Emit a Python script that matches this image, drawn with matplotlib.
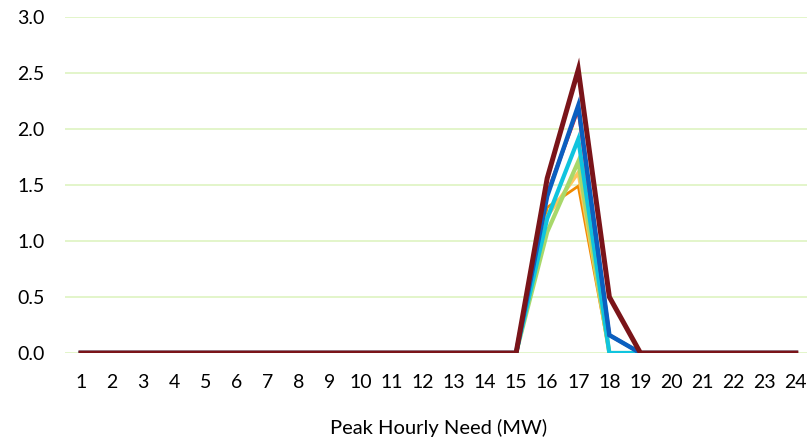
import matplotlib.pyplot as plt

hours = list(range(1, 25))

def series(v16, v17, v18):
    vals = [0.0] * 24
    vals[15] = v16
    vals[16] = v17
    vals[17] = v18
    return vals

orange = series(1.30, 1.49, 0.0)
light_orange = series(1.22, 1.61, 0.0)
green = series(1.08, 1.71, 0.0)
cyan = series(1.20, 1.91, 0.0)
red = series(1.42, 2.18, 0.16)
blue = series(1.40, 2.21, 0.16)
dark_red = series(1.56, 2.53, 0.50)

styles = [
    (orange, '#F08A00', 2.0),
    (light_orange, '#FFC65C', 2.6),
    (green, '#A8D86A', 3.0),
    (cyan, '#10C4DE', 3.0),
    (red, '#E0202A', 2.6),
    (blue, '#0A5FC0', 3.2),
    (dark_red, '#7A1419', 3.6),
]

plt.rcParams['font.family'] = ['Lato', 'DejaVu Sans']

fig = plt.figure(figsize=(8.07, 4.37), dpi=100)
ax = fig.add_axes([65.4 / 807, 84 / 437, 746 / 807, 336 / 437])

for vals, color, lw in styles:
    ax.plot(hours, vals, color=color, linewidth=lw, solid_joinstyle='miter')

ax.set_xlim(0.5, 24.5)
ax.set_ylim(0, 3.0)
ax.set_yticks([0, 0.5, 1.0, 1.5, 2.0, 2.5, 3.0])
ax.set_yticklabels(['0.0', '0.5', '1.0', '1.5', '2.0', '2.5', '3.0'])
ax.set_xticks(hours)
ax.grid(axis='y', color='#E0F5C6', linewidth=1.3)
ax.set_axisbelow(True)
for s in ax.spines.values():
    s.set_visible(False)
ax.tick_params(axis='both', length=0, labelsize=14, colors='#000000')
ax.tick_params(axis='x', pad=15)
ax.tick_params(axis='y', pad=15)
ax.set_xlabel('Peak Hourly Need (MW)', fontsize=14.5, labelpad=20)

fig.savefig('out.png', dpi=100)
